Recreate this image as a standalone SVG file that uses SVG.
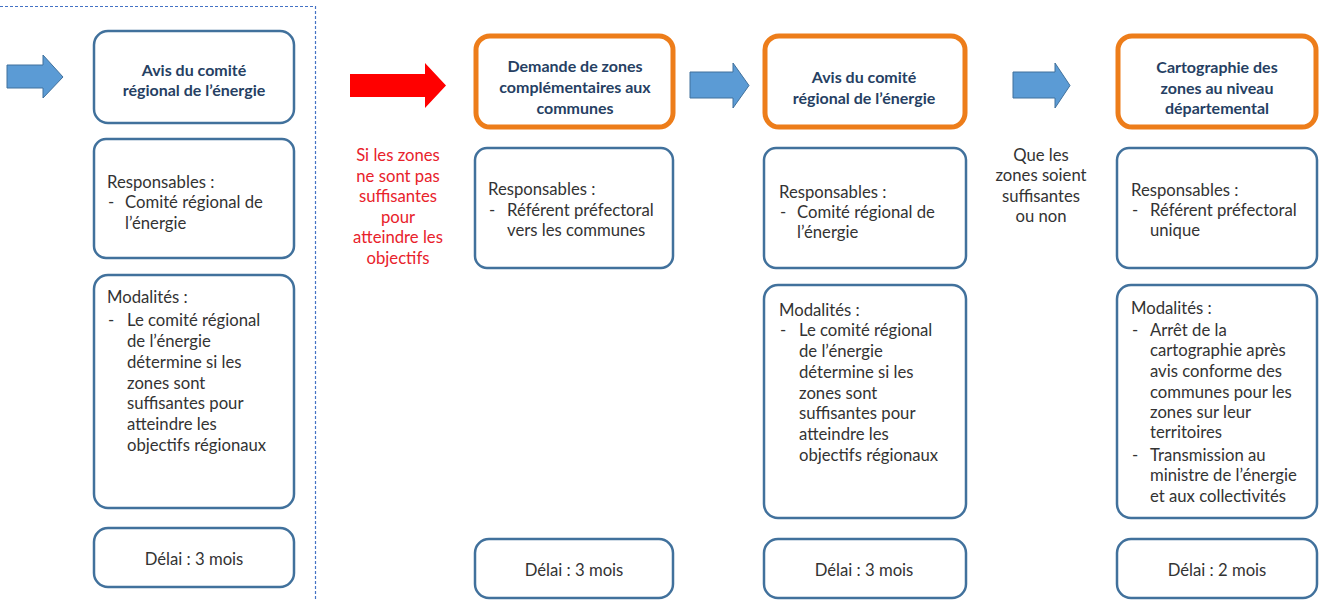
<svg xmlns="http://www.w3.org/2000/svg" width="1326" height="601" viewBox="0 0 1326 601">
<style>
.box{fill:#fff;stroke:#41719c;stroke-width:2.5}
.obox{fill:#fff;stroke:#ed7d1a;stroke-width:5}
.t{font-family:Lato,"Open Sans","Liberation Sans",sans-serif;font-size:16.7px;fill:#333}
.h{font-family:Lato,"Open Sans","Liberation Sans",sans-serif;font-size:16px;font-weight:bold;fill:#263f63;text-anchor:middle}
.c{text-anchor:middle}
.red{fill:#e8222b}
.barrow{fill:#5b9bd5;stroke:#41719c;stroke-width:1}
.rarrow{fill:#ff0000}
.dash{fill:none;stroke:#4472c4;stroke-width:1.2;stroke-dasharray:3 2}
</style>
<rect width="1326" height="601" fill="#fff"/>
<path class="dash" d="M0 6.5 H315.5 V601"/>

<g id="connectors">
<path class="barrow" d="M7 65 H43 V55 L63 77 L43 98 V88 H7 Z"/>
<path class="rarrow" d="M350 74 H425 V63 L446 85.5 L425 108 V97 H350 Z"/>
<path class="barrow" d="M690 72 H733 V63 L749 85.5 L733 108 V98 H690 Z"/>
<path class="barrow" d="M1013 72 H1055 V63 L1070 85.5 L1055 108 V98 H1013 Z"/>
</g>

<g id="label-si">
<text class="t c red" x="398"><tspan x="398" y="161">Si les zones</tspan><tspan x="398" y="182">ne sont pas</tspan><tspan x="398" y="202">suffisantes</tspan><tspan x="398" y="223">pour</tspan><tspan x="398" y="243">atteindre les</tspan><tspan x="398" y="264">objectifs</tspan></text>
</g>
<g id="label-que">
<text class="t c" x="1041"><tspan x="1041" y="161">Que les</tspan><tspan x="1041" y="181">zones soient</tspan><tspan x="1041" y="202">suffisantes</tspan><tspan x="1041" y="222">ou non</tspan></text>
</g>

<!-- Column 1 -->
<g id="c1-title">
<rect class="box" x="94" y="31" width="200" height="92" rx="14"/>
<text class="h"><tspan x="194" y="76">Avis du comité</tspan><tspan x="194" y="96">régional de l’énergie</tspan></text>
</g>
<g id="c1-resp">
<rect class="box" x="94" y="139" width="200" height="119" rx="12"/>
<text class="t"><tspan x="107" y="188">Responsables :</tspan><tspan x="108" y="208">-</tspan><tspan x="125" y="208">Comité régional de</tspan><tspan x="125" y="229">l’énergie</tspan></text>
</g>
<g id="c1-mod">
<rect class="box" x="94" y="275" width="200" height="233" rx="14"/>
<text class="t"><tspan x="107" y="303">Modalités :</tspan><tspan x="108" y="326">-</tspan><tspan x="127" y="326">Le comité régional</tspan><tspan x="127" y="347">de l’énergie</tspan><tspan x="127" y="368">détermine si les</tspan><tspan x="127" y="389">zones sont</tspan><tspan x="127" y="409">suffisantes pour</tspan><tspan x="127" y="430">atteindre les</tspan><tspan x="127" y="451">objectifs régionaux</tspan></text>
</g>
<g id="c1-delai">
<rect class="box" x="94" y="528" width="200" height="59" rx="14"/>
<text class="t c" x="194" y="565">Délai : 3 mois</text>
</g>

<!-- Column 2 -->
<g id="c2-title">
<rect class="obox" x="476" y="36" width="197" height="91" rx="14"/>
<text class="h"><tspan x="575" y="72">Demande de zones</tspan><tspan x="575" y="93">complémentaires aux</tspan><tspan x="575" y="114">communes</tspan></text>
</g>
<g id="c2-resp">
<rect class="box" x="475" y="148" width="198" height="120" rx="12"/>
<text class="t"><tspan x="488" y="195">Responsables :</tspan><tspan x="489" y="216">-</tspan><tspan x="507" y="216">Référent préfectoral</tspan><tspan x="507" y="236">vers les communes</tspan></text>
</g>
<g id="c2-delai">
<rect class="box" x="475" y="539" width="198" height="59" rx="14"/>
<text class="t c" x="574" y="576">Délai : 3 mois</text>
</g>

<!-- Column 3 -->
<g id="c3-title">
<rect class="obox" x="765" y="36" width="200" height="91" rx="14"/>
<text class="h"><tspan x="864" y="83">Avis du comité</tspan><tspan x="864" y="104">régional de l’énergie</tspan></text>
</g>
<g id="c3-resp">
<rect class="box" x="764" y="148" width="202" height="120" rx="12"/>
<text class="t"><tspan x="779" y="198">Responsables :</tspan><tspan x="780" y="218">-</tspan><tspan x="797" y="218">Comité régional de</tspan><tspan x="797" y="238">l’énergie</tspan></text>
</g>
<g id="c3-mod">
<rect class="box" x="764" y="285" width="202" height="233" rx="14"/>
<text class="t"><tspan x="779" y="316">Modalités :</tspan><tspan x="780" y="336">-</tspan><tspan x="799" y="336">Le comité régional</tspan><tspan x="799" y="357">de l’énergie</tspan><tspan x="799" y="378">détermine si les</tspan><tspan x="799" y="399">zones sont</tspan><tspan x="799" y="419">suffisantes pour</tspan><tspan x="799" y="440">atteindre les</tspan><tspan x="799" y="461">objectifs régionaux</tspan></text>
</g>
<g id="c3-delai">
<rect class="box" x="764" y="539" width="202" height="59" rx="14"/>
<text class="t c" x="864" y="576">Délai : 3 mois</text>
</g>

<!-- Column 4 -->
<g id="c4-title">
<rect class="obox" x="1118" y="36" width="198" height="91" rx="14"/>
<text class="h"><tspan x="1217" y="73">Cartographie des</tspan><tspan x="1217" y="94">zones au niveau</tspan><tspan x="1217" y="114">départemental</tspan></text>
</g>
<g id="c4-resp">
<rect class="box" x="1117" y="148" width="200" height="120" rx="12"/>
<text class="t"><tspan x="1131" y="196">Responsables :</tspan><tspan x="1132" y="216">-</tspan><tspan x="1150" y="216">Référent préfectoral</tspan><tspan x="1150" y="236">unique</tspan></text>
</g>
<g id="c4-mod">
<rect class="box" x="1117" y="285" width="200" height="233" rx="14"/>
<text class="t"><tspan x="1131" y="314">Modalités :</tspan><tspan x="1132" y="336">-</tspan><tspan x="1150" y="336">Arrêt de la</tspan><tspan x="1150" y="356">cartographie après</tspan><tspan x="1150" y="377">avis conforme des</tspan><tspan x="1150" y="398">communes pour les</tspan><tspan x="1150" y="418">zones sur leur</tspan><tspan x="1150" y="438">territoires</tspan><tspan x="1132" y="461">-</tspan><tspan x="1150" y="461">Transmission au</tspan><tspan x="1150" y="481">ministre de l’énergie</tspan><tspan x="1150" y="502">et aux collectivités</tspan></text>
</g>
<g id="c4-delai">
<rect class="box" x="1117" y="539" width="200" height="59" rx="14"/>
<text class="t c" x="1217" y="576">Délai : 2 mois</text>
</g>
</svg>
